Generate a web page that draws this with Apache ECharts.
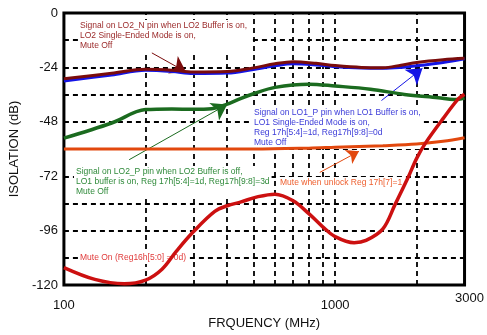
<!DOCTYPE html>
<html>
<head>
<meta charset="utf-8">
<script src="https://cdn.jsdelivr.net/npm/echarts@6/dist/echarts.min.js"></script>
<style>
    html, body {margin: 0; padding: 0; background: #fff;}
    #chart {width: 487px; height: 335px;}
</style>
</head>
<body>
<div id="chart"></div>
<script>
// frequencies in MHz, isolation in dB
const lo2nFreq = [100, 150, 200, 250, 300, 400, 500, 600, 700, 850, 1000, 1250, 1500, 1750, 2000, 2500, 3000];
const lo2nVals = [-29, -26.6, -24.8, -25.2, -26.0, -25.8, -24.2, -22.4, -21.5, -22.2, -23.2, -24.0, -24.1, -23.0, -21.8, -20.6, -20.0];

const lo1pFreq = [100, 150, 200, 250, 300, 400, 500, 600, 700, 850, 1000, 1250, 1500, 1750, 2000, 2500, 3000];
const lo1pVals = [-30, -27.3, -25.3, -25.8, -26.7, -26.5, -24.9, -23.3, -22.4, -22.9, -23.7, -24.3, -24.4, -24.0, -23.3, -21.8, -20.2];

const lo2pFreq = [100, 150, 200, 250, 300, 350, 400, 450, 500, 600, 800, 1000, 1350, 1800, 2400, 2750, 3000];
const lo2pVals = [-55.2, -48.5, -42.6, -42.3, -42.5, -42.2, -40.2, -37.6, -35.6, -32.8, -31.4, -32.2, -33.6, -35.9, -37.4, -38.2, -37.5];

const unlockFreq = [100, 500, 800, 1000, 1500, 2000, 2500, 3000];
const unlockVals = [-60, -60, -59.6, -59.2, -58.5, -57.8, -56.6, -55];

const muteFreq = [100, 130, 167, 200, 230, 260, 300, 360, 400, 450, 520, 600, 700, 800, 900, 1000, 1175, 1300, 1500, 1664, 1850, 2000, 2150, 2500, 2850, 3000];
const muteVals = [-112.3, -117.5, -119.4, -117.8, -113, -105, -96.5, -87.5, -85, -83.3, -81, -79.9, -82.8, -88.5, -94.3, -98.6, -101.3, -100.3, -95.2, -84.4, -73, -64, -57.5, -46.6, -37.8, -35.9];

// dashed vertical grid (log minor decades)
const minorFreqs = [200, 300, 400, 500, 600, 700, 800, 900, 1000, 2000];

// annotation arrows: [from, to] in [MHz, dB]
const arrowLo2n = [[211, -17.6], [282, -26.0]];
const arrowLo1p = [[1482, -38.6], [2099, -24.4]];
const arrowLo2p = [[174, -64.7], [400, -40.3]];
const arrowUnlock = [[878, -70.3], [1224, -61.0]];

const pairs = (xs, ys) => xs.map((x, i) => [x, ys[i]]);

const arrow = (pts, color, size) => ({
    silent: true,
    symbol: ['none', 'arrow'],
    symbolSize: size,
    label: {show: false},
    lineStyle: {color: color, width: 1, type: 'solid'},
    data: [[{coord: pts[0]}, {coord: pts[1]}]]
});

const font = 'Liberation Sans, Arial, sans-serif';

// curves live on their own layer so they stay above the label boxes
const curve = (name, xs, ys, color, width, z, markLine) => ({
    name: name,
    type: 'line',
    data: pairs(xs, ys),
    smooth: 0.35,
    showSymbol: false,
    symbol: 'none',
    zlevel: 1,
    z: z,
    lineStyle: {color: color, width: width},
    markLine: markLine
});

const note = (x, y, text, color) => ({
    type: 'text',
    left: x,
    top: y,
    z: 1,
    silent: true,
    style: {
        text: text,
        fill: color,
        fontSize: 8.5,
        fontFamily: font,
        lineHeight: 10,
        backgroundColor: '#fff',
        padding: [1, 2]
    }
});

const chart = echarts.init(document.getElementById('chart'));

const option = {
    animation: false,
    backgroundColor: '#fff',
    grid: {
        left: 58, right: 19, top: 13, bottom: 42,
        show: true,
        borderColor: '#000',
        borderWidth: 3,
        backgroundColor: 'transparent'
    },
    xAxis: {
        type: 'log',
        logBase: 10,
        min: 100,
        max: 3000,
        name: 'FRQUENCY (MHz)',
        nameLocation: 'middle',
        nameGap: 28,
        nameTextStyle: {color: '#111', fontSize: 13, fontFamily: font},
        axisLine: {show: false},
        axisTick: {show: false},
        splitLine: {show: false},
        axisLabel: {
            color: '#111',
            fontSize: 13,
            fontFamily: font,
            margin: 7,
            formatter: v => v >= 2999 ? '{b|3000}' : '{a|' + Math.round(v) + '}',
            rich: {
                a: {fontSize: 13, fontFamily: font, color: '#111', padding: [7, 0, 0, 0]},
                b: {fontSize: 13, fontFamily: font, color: '#111', padding: [0, 0, 0, 10]}
            }
        }
    },
    yAxis: {
        type: 'value',
        min: -120,
        max: 0,
        interval: 12,
        name: 'ISOLATION (dB)',
        nameLocation: 'middle',
        nameGap: 27,
        nameTextStyle: {color: '#111', fontSize: 13, fontFamily: font},
        axisLine: {show: false},
        axisTick: {show: false},
        axisLabel: {
            color: '#111',
            fontSize: 13,
            fontFamily: font,
            margin: 6,
            formatter: v => (v % 24 === 0 ? String(v) : '')
        },
        splitLine: {
            show: true,
            lineStyle: {color: '#000', width: 1.8, type: [5, 4]}
        }
    },
    graphic: [
        note(78, 20, 'Signal on LO2_N pin when LO2 Buffer is on,\nLO2 Single-Ended Mode is on,\nMute Off', '#9b2a2a'),
        note(252, 107, 'Signal on LO1_P pin when LO1 Buffer is on,\nLO1 Single-Ended Mode is on,\nReg 17h[5:4]=1d, Reg17h[9:8]=0d\nMute Off', '#3a3ad8'),
        note(74, 166, 'Signal on LO2_P pin when LO2 Buffer is off,\nLO1 buffer is on, Reg 17h[5:4]=1d, Reg17h[9:8]=3d\nMute Off', '#2f8a3a'),
        note(278, 177, 'Mute when unlock Reg 17h[7]=1', '#ee6030'),
        note(78, 252, 'Mute On (Reg16h[5:0] = 0d)', '#e03a3a')
    ],
    series: [
        {
            name: 'vgrid',
            type: 'line',
            data: [],
            z: 0,
            silent: true,
            markLine: {
                z: 0,
                silent: true,
                symbol: 'none',
                label: {show: false},
                lineStyle: {color: '#000', width: 1.8, type: [5, 4]},
                data: minorFreqs.map(f => ({xAxis: f}))
            }
        },
        curve('Mute when unlock', unlockFreq, unlockVals, '#e2480e', 3, 2, arrow(arrowUnlock, '#e2480e', 12)),
        curve('LO2_P', lo2pFreq, lo2pVals, '#1b6b1f', 3.5, 3, arrow(arrowLo2p, '#1b6b1f', 15)),
        curve('LO1_P', lo1pFreq, lo1pVals, '#1414e6', 3, 4, arrow(arrowLo1p, '#1414e6', 15)),
        curve('LO2_N', lo2nFreq, lo2nVals, '#7a0c0c', 3, 5, arrow(arrowLo2n, '#7a0c0c', 15)),
        curve('Mute On', muteFreq, muteVals, '#cc1010', 3.5, 6)
    ]
};

chart.setOption(option);
</script>
</body>
</html>
